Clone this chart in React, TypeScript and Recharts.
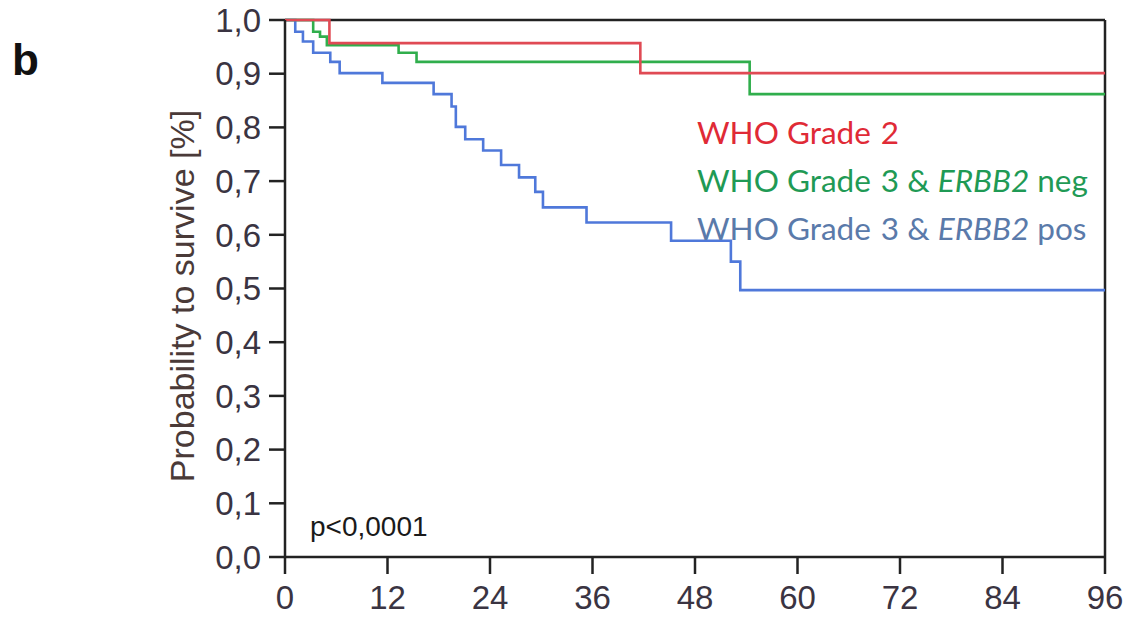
import { LineChart, Line, XAxis, YAxis, ReferenceLine } from 'recharts'

// ---------------------------------------------------------------------------
// Data (Kaplan-Meier steps)
// ---------------------------------------------------------------------------

const redMonths = [0, 5.2, 41.6, 96]
const redSurvival = [1, 0.957, 0.901, 0.901]

const greenMonths = [0, 3.3, 4.1, 4.9, 13.3, 15.4, 54.4, 96]
const greenSurvival = [1, 0.978, 0.969, 0.953, 0.939, 0.922, 0.862, 0.862]

const blueMonths = [
  0, 1.2, 2.1, 3.3, 5.3, 6.4, 11.4, 17.4, 19.5, 20.0, 21.1, 23.2, 25.3, 27.4,
  29.3, 30.2, 35.3, 45.2, 52.2, 53.3, 96,
]
const blueSurvival = [
  1, 0.978, 0.96, 0.939, 0.922, 0.901, 0.883, 0.862, 0.839, 0.801, 0.778, 0.757,
  0.73, 0.707, 0.68, 0.651, 0.623, 0.589, 0.55, 0.497, 0.497,
]

const xTicks = [0, 12, 24, 36, 48, 60, 72, 84, 96]
const yTicks = [0, 0.1, 0.2, 0.3, 0.4, 0.5, 0.6, 0.7, 0.8, 0.9, 1]

// ---------------------------------------------------------------------------
// Colors
// ---------------------------------------------------------------------------

const RED = '#e04a54'
const GREEN = '#30ae4c'
const BLUE = '#4f78da'
const AXIS = '#222'
const TICK_TEXT = '#3a3442'

const toPoints = (months: number[], surv: number[]) =>
  months.map((m, i) => ({ month: m, surv: surv[i] }))

const W = 1133
const H = 617

export default function App() {
  const red = toPoints(redMonths, redSurvival)
  const green = toPoints(greenMonths, greenSurvival)
  const blue = toPoints(blueMonths, blueSurvival)

  const tickStyle = { fontFamily: '"Liberation Sans", Arial, sans-serif', fontSize: 33, fill: TICK_TEXT }
  const legendFont = 'Lato, "Open Sans", sans-serif'

  return (
    <div style={{ position: 'absolute', left: 0, top: 0, width: W, height: H, background: '#fff' }}>
      <LineChart width={W} height={H} margin={{ top: 20, right: 28, bottom: 0, left: 0 }}>
        <XAxis
          type="number"
          dataKey="month"
          domain={[0, 96]}
          ticks={xTicks}
          height={60}
          tickSize={17}
          tickMargin={12}
          stroke={AXIS}
          strokeWidth={2.5}
          tick={tickStyle}
          allowDuplicatedCategory={false}
        />
        <YAxis
          type="number"
          dataKey="surv"
          domain={[0, 1]}
          ticks={yTicks}
          width={285}
          tickSize={16}
          tickMargin={8}
          stroke={AXIS}
          strokeWidth={2.5}
          tick={tickStyle}
          tickFormatter={(v: number) => v.toFixed(1).replace('.', ',')}
        />
        <ReferenceLine y={1} stroke={AXIS} strokeWidth={2.5} />
        <ReferenceLine x={96} stroke={AXIS} strokeWidth={2.5} />
        <Line data={blue} dataKey="surv" type="stepAfter" stroke={BLUE} strokeWidth={2.6} dot={false} isAnimationActive={false} />
        <Line data={green} dataKey="surv" type="stepAfter" stroke={GREEN} strokeWidth={2.6} dot={false} isAnimationActive={false} />
        <Line data={red} dataKey="surv" type="stepAfter" stroke={RED} strokeWidth={2.6} dot={false} isAnimationActive={false} />
      </LineChart>

      {/* text overlay: panel letter, axis title, legend, p-value */}
      <svg width={W} height={H} style={{ position: 'absolute', left: 0, top: 0, pointerEvents: 'none' }}>
        <text x={12} y={75} fontFamily='"Liberation Sans", Arial, sans-serif' fontWeight="bold" fontSize={44} fill="#111">b</text>
        <text
          x={0}
          y={0}
          transform="translate(194 296) rotate(-90)"
          textAnchor="middle"
          fontFamily='"Liberation Sans", Arial, sans-serif'
          fontSize={34}
          fill="#4a3a38"
        >
          Probability to survive [%]
        </text>
        <text x={310} y={536} fontFamily='"Liberation Sans", Arial, sans-serif' fontSize={28} fill="#1a1a1a">p&lt;0,0001</text>

        <text x={697} y={144} fontFamily={legendFont} fontSize={31.5} fill="#e02a36">
          WHO Grade<tspan dx={10}>2</tspan>
        </text>
        <text x={697} y={192} fontFamily={legendFont} fontSize={31.5} fill="#1f9a55">
          WHO Grade<tspan dx={10}>3 &amp; </tspan>
          <tspan fontStyle="italic">ERBB2</tspan> neg
        </text>
        <text x={697} y={240} fontFamily={legendFont} fontSize={31.5} fill="#5a7aaa">
          WHO Grade<tspan dx={10}>3 &amp; </tspan>
          <tspan fontStyle="italic">ERBB2</tspan> pos
        </text>
      </svg>
    </div>
  )
}
